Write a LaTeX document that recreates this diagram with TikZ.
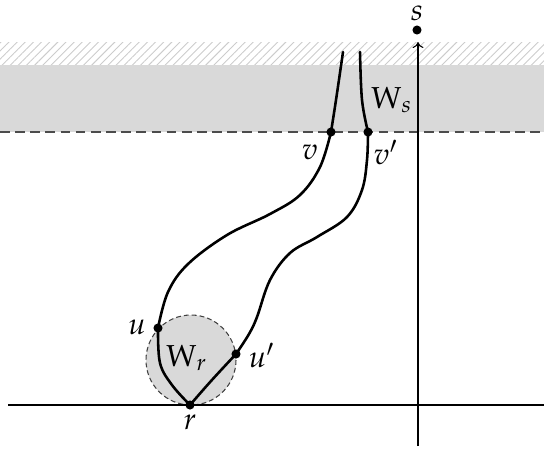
\documentclass[tikz,border=0pt]{standalone}
\usepackage{mathpazo}
\usetikzlibrary{patterns.meta,arrows.meta}
\begin{document}
\begin{tikzpicture}[x=0.33pt,y=-0.33pt,
  strand/.style={line width=0.85pt,line cap=round},
  dot/.style={circle,fill=black,inner sep=0pt,minimum size=3pt},
  lab/.style={inner sep=0pt,font=\normalsize}]
\useasboundingbox (0,0) rectangle (544,450);
% hatched band
\fill[pattern={Lines[angle=45,distance=1.9pt,line width=0.3pt]},pattern color=black!20] (0,42) rectangle (544,65);
% gray band
\fill[black!15] (0,65) rectangle (544,132);
\draw[black!70,line width=0.4pt,dash pattern=on 3.2pt off 1.8pt] (0,132) -- (544,132);
% disc W_r
\fill[black!15] (191,360) circle[radius=45];
\draw[black!75,line width=0.35pt,dash pattern=on 1.6pt off 1pt] (191,360) circle[radius=45];
% axes
\draw[line width=0.35pt] (8,405) -- (544,405);
\coordinate (axb) at (418,446);
\coordinate (axt) at (418,42);
\draw[line width=0.35pt,-{To[length=2pt,width=3.6pt]}] (axb) -- (axt);
% points
\coordinate (r) at (190,405);
\coordinate (u) at (158,328);
\coordinate (up) at (236,354);
\coordinate (v) at (331,132);
\coordinate (vp) at (368,132);
\coordinate (t1) at (343,52);
\coordinate (t2) at (360,52);
% strands
\draw[strand] plot[smooth,tension=0.6] coordinates {(r) (172,385) (160,363) (u)};
\draw[strand] plot[smooth,tension=0.6] coordinates {(r) (211,381) (up)};
\draw[strand] plot[smooth,tension=0.6] coordinates {(u) (168,292) (188,264) (227,235) (270,214) (300,195) (320,167) (v)};
\draw[strand] plot[smooth,tension=0.6] coordinates {(up) (249,334) (257,317) (270,280) (290,253) (317,237) (347,217) (362,190) (367,160) (vp)};
\draw[strand] plot[smooth,tension=0.6] coordinates {(v) (336,100) (t1)};
\draw[strand] plot[smooth,tension=0.6] coordinates {(vp) (362,100) (t2)};
% dots
\node[dot] (nr) at (r) {};
\node[dot] (nu) at (u) {};
\node[dot] (nup) at (up) {};
\node[dot] (nv) at (v) {};
\node[dot] (nvp) at (vp) {};
\node[dot] (ns) at (417,30) {};
% labels
\node[lab] (ls) at (417,13) {$s$};
\node[lab] (lv) at (310,152) {$v$};
\node[lab] (lvp) at (386,152) {$v'$};
\node[lab] (lu) at (137,327) {$u$};
\node[lab] (lup) at (262,355) {$u'$};
\node[lab] (lr) at (190,422) {$r$};
\node[lab] (lWs) at (392,100) {$\mathrm{W}_s$};
\node[lab] (lWr) at (187,358) {$\mathrm{W}_r$};
\end{tikzpicture}
\end{document}
